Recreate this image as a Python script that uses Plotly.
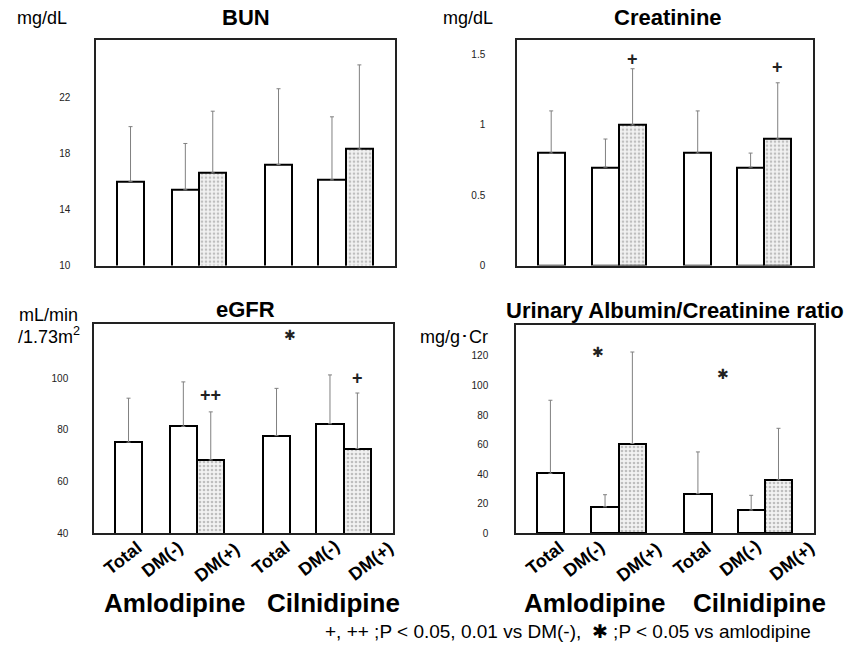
import plotly.graph_objects as go

W, H = 860, 657

groups = ["Total", "DM(-)", "DM(+)", "Total", "DM(-)", "DM(+)"]
drugs = ["Amlodipine", "Cilnidipine"]
diabetic = [False, False, True, False, False, True]

bun_mean = [16.0, 15.4, 16.6, 17.2, 16.1, 18.3]
bun_sd = [3.9, 3.3, 4.4, 5.4, 4.5, 6.0]
cre_mean = [0.8, 0.7, 1.0, 0.8, 0.7, 0.9]
cre_sd = [0.3, 0.2, 0.4, 0.3, 0.1, 0.4]
egfr_mean = [75.2, 81.3, 68.3, 77.7, 82.3, 72.7]
egfr_sd = [17.0, 17.2, 18.6, 18.3, 18.9, 21.5]
uacr_mean = [40.5, 17.8, 60.7, 26.7, 15.6, 36.0]
uacr_sd = [49.5, 8.2, 62.0, 28.3, 10.0, 35.0]

bun_ticks = [10, 14, 18, 22]
cre_ticks = [0, 0.5, 1, 1.5]
cre_ticktext = ["0", "0.5", "1", "1.5"]
egfr_ticks = [40, 60, 80, 100]
uacr_ticks = [0, 20, 40, 60, 80, 100, 120]

# significance marks: (bar index, y value, text)
cre_marks = [(2, 1.47, "+"), (5, 1.41, "+")]
egfr_marks = [(2, 93.5, "++"), (5, 100.1, "+"), (3, 116.5, "✱")]
uacr_marks = [(1, 122.7, "✱"), (3, 107.8, "✱")]

# ---- layout (positions / styles) ----
pos = [0, 2, 3, 5.4, 7.35, 8.35]
mark_shift = {("x3", 3): 0.5, ("x4", 1): -0.26, ("x4", 3): 0.9}
xr = [-1.26, 9.65]
lab_shift_px = [20, 6, 36, 20, 16, 43]
lab_drop = [1, 1, 3, 1, 0, 2]

def px(x):
    return x / W

def py(y):
    return 1 - y / H

FONT = "Liberation Sans, Arial, sans-serif"

fig = go.Figure()

panels = [
    dict(mean=bun_mean, sd=bun_sd, dom=(96, 395, 40, 268), yr=[10, 26.1], tv=bun_ticks, tt=[str(t) for t in bun_ticks], labels=False, standoff=22),
    dict(mean=cre_mean, sd=cre_sd, dom=(517, 813, 40, 268), yr=[0, 1.607], tv=cre_ticks, tt=cre_ticktext, labels=False, standoff=28),
    dict(mean=egfr_mean, sd=egfr_sd, dom=(94, 393, 327, 538), yr=[40, 120.9], tv=egfr_ticks, tt=[str(t) for t in egfr_ticks], labels=True, standoff=22),
    dict(mean=uacr_mean, sd=uacr_sd, dom=(516, 814, 328, 538), yr=[0, 141], tv=uacr_ticks, tt=[str(t) for t in uacr_ticks], labels=True, standoff=24),
]

annotations = []
for i, p in enumerate(panels):
    n = "" if i == 0 else str(i + 1)
    xa, ya = "x" + n, "y" + n
    fig.add_trace(go.Bar(
        x=pos, y=p["mean"], width=1, xaxis=xa, yaxis=ya,
        marker=dict(
            color="white",
            line=dict(color="black", width=2),
            pattern=dict(shape=["." if d else "" for d in diabetic],
                         fgcolor="#8a8a8a", bgcolor="#f2f2f2", size=4, solidity=0.35),
        ),
        error_y=dict(type="data", symmetric=False, array=p["sd"],
                     arrayminus=[0] * 6, color="#808080", thickness=1, width=2),
        showlegend=False, hoverinfo="skip",
    ))
    x0, x1, y0, y1 = p["dom"]
    axcommon = dict(showline=True, mirror=True, linecolor="#222", linewidth=1.5,
                    showgrid=False, zeroline=False, ticks="")
    fig.update_layout(**{
        "xaxis" + n: dict(domain=[px(x0), px(x1)], range=xr, anchor=ya,
                          showticklabels=False, **axcommon),
        "yaxis" + n: dict(domain=[py(y1), py(y0)], range=p["yr"], anchor=xa,
                          tickvals=p["tv"], ticktext=p["tt"], ticklabelstandoff=p["standoff"],
                          tickfont=dict(family=FONT, size=10, color="#222"), **axcommon),
    })
    if p["labels"]:
        for k, g in enumerate(groups):
            annotations.append(dict(
                x=pos[k], xshift=lab_shift_px[k], y=py(y1 + lab_drop[k]), xref=xa, yref="paper",
                text=g, textangle=-38, showarrow=False, xanchor="right", yanchor="top",
                font=dict(family=FONT, size=18, color="black", weight="bold")))

def add_marks(marks, xa, ya):
    for bi, yv, t in marks:
        xv = pos[bi] + mark_shift.get((xa, bi), 0) if t == "✱" else pos[bi]
        if t == "✱":
            fnt = dict(family="DejaVu Sans", size=14, color="#222")
        else:
            fnt = dict(family=FONT, size=18, color="#222", weight="bold")
        annotations.append(dict(x=xv, y=yv, xref=xa, yref=ya, text=t,
                                showarrow=False, font=fnt, xanchor="center", yanchor="middle"))

add_marks(cre_marks, "x2", "y2")
add_marks(egfr_marks, "x3", "y3")
add_marks(uacr_marks, "x4", "y4")

def txt(x, y, s, size, bold=False, xanchor="center"):
    f = dict(family=FONT, size=size, color="black")
    if bold:
        f["weight"] = "bold"
    annotations.append(dict(x=px(x), y=py(y), xref="paper", yref="paper", text=s,
                            showarrow=False, font=f, xanchor=xanchor, yanchor="middle"))

# titles
txt(246, 18, "BUN", 22, True)
txt(668, 18, "Creatinine", 22, True)
txt(246, 312, "eGFR", 22, True)
txt(675, 313, "Urinary Albumin/Creatinine ratio", 22, True)
# units
txt(42, 18, "mg/dL", 18)
txt(468, 18, "mg/dL", 18)
txt(48, 318, "mL/min", 18)
txt(49, 339, "/1.73m<sup>2</sup>", 18)
txt(454, 340, "mg/g･Cr", 18)
# drug group labels
txt(102, 609, drugs[0], 26, True, "left")
txt(265, 609, drugs[1], 26, True, "left")
txt(522, 609, drugs[0], 26, True, "left")
txt(691, 609, drugs[1], 26, True, "left")
# footnote
txt(568, 637, "+, ++ ;P < 0.05, 0.01 vs DM(-),  ✱ ;P < 0.05 vs amlodipine", 19)

fig.update_layout(
    width=W, height=H, margin=dict(l=0, r=0, t=0, b=0),
    paper_bgcolor="white", plot_bgcolor="white",
    annotations=annotations, bargap=0,
    font=dict(family=FONT, color="black"),
)

fig.write_html("out.html")
